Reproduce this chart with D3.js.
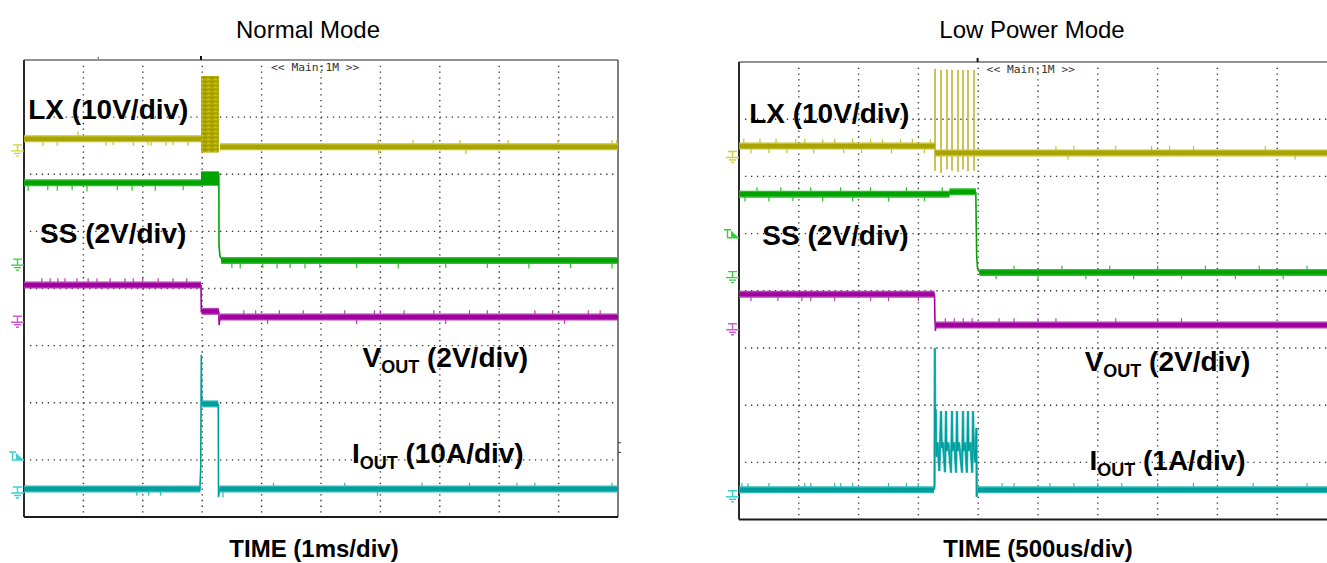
<!DOCTYPE html>
<html><head><meta charset="utf-8">
<script src="https://cdn.jsdelivr.net/npm/d3@7"></script>
<style>body{margin:0;background:#fff}svg{display:block}</style>
</head><body>
<svg id="c" width="1327" height="563"></svg>
<script>
// ---------- DATA (time in divisions, level in divisions above screen bottom) ----------
const panelTitles = ["Normal Mode", "Low Power Mode"];
const timeLabels = ["TIME (1ms/div)", "TIME (500us/div)"];
const lxLabels = ["LX (10V/div)", "LX (10V/div)"];
const ssLabels = ["SS (2V/div)", "SS (2V/div)"];
const voutScales = ["(2V/div)", "(2V/div)"];
const ioutScales = ["(10A/div)", "(1A/div)"];
const timeDivs = d3.range(0, 11);
const levelDivs = d3.range(0, 9);

// Left panel (Normal Mode)
const leftLxBands = [[0, 2.98, 6.62], [3.30, 10, 6.48]];
const leftLxBurst = [[2.98, 3.28, 6.38, 7.72]];
const leftLxGlitches = [[0.32,-0.12],[0.56,-0.12],[0.91,0.13],[1.38,-0.12],[1.50,-0.11],[1.84,-0.12],[2.09,-0.11],[2.14,-0.12],[2.39,-0.12],[2.51,-0.11],[2.76,-0.12],[5.96,0.13],[5.97,-0.13],[6.55,0.12],[6.89,0.12],[7.34,0.12],[7.44,-0.13],[8.15,0.12],[8.99,0.12],[9.90,0.12],[9.98,0.12]];
const leftSsBands = [[0, 2.98, 5.85], [3.32, 10, 4.49]];
const leftSsBurst = [[2.98, 3.28, 5.80, 6.05]];
const leftSsEdges = [[[3.28, 6.02], [3.283, 4.75], [3.30, 4.56], [3.34, 4.50]]];
const leftSsGlitches = [[0.07,-0.14],[0.40,-0.13],[0.56,-0.14],[0.81,-0.13],[1.06,-0.15],[1.57,-0.13],[1.82,-0.14],[2.21,-0.14],[2.68,-0.13],[3.50,-0.13],[3.64,-0.14],[4.02,-0.13],[4.26,-0.14],[4.48,-0.13],[4.73,-0.14],[4.98,-0.13],[5.6,-0.13],[6.3,-0.14],[7.1,-0.13],[7.8,-0.13],[8.5,-0.14],[9.2,-0.13],[9.9,-0.14]];
const leftVoutBands = [[0, 2.98, 4.06], [2.99, 3.28, 3.60], [3.30, 10, 3.50]];
const leftVoutEdges = [[[2.98, 4.06], [2.985, 3.58]], [[3.28, 3.60], [3.285, 3.36], [3.30, 3.50]]];
const leftVoutGlitches = [[0.30,0.12],[0.44,0.12],[0.57,0.12],[0.69,0.12],[0.89,0.12],[1.08,0.12],[1.23,0.12],[1.45,0.12],[1.70,0.12],[1.84,0.12],[2.00,0.12],[2.26,0.12],[2.51,0.12],[2.74,0.12],[3.7,0.12],[3.9,0.12],[4.1,-0.12],[4.3,0.12],[4.7,0.12],[5.4,0.12],[5.6,-0.12],[5.9,0.12],[6.0,0.12],[6.4,0.12],[6.9,0.12],[7.1,-0.12],[7.5,0.12],[7.8,0.12],[8.6,0.12],[8.9,0.12],[9.1,-0.12],[9.5,0.12],[9.7,0.12]];
const leftIoutBands = [[0, 2.97, 0.49], [3.29, 10, 0.49], [3.00, 3.27, 1.98]];
const leftIoutEdges = [[[2.96, 0.49], [2.975, 0.85], [2.985, 2.84], [2.99, 2.12], [3.0, 2.02]], [[3.27, 1.98], [3.275, 0.35], [3.29, 0.49]]];
const leftIoutGlitches = [[1.90,-0.12],[2.10,-0.12],[2.30,-0.12],[3.35,-0.15],[4.20,0.11],[5.40,0.11],[5.95,-0.12],[6.70,0.11],[7.50,0.11],[8.30,0.11],[8.60,0.11],[9.90,0.11]];
const leftGrounds = [6.41, 4.41, 3.41, 0.42];
const leftTrigger = [1.05];

// Right panel (Low Power Mode)
const rightLxBands = [[0, 3.28, 6.53], [3.28, 10, 6.41]];
const rightLxSpikes = [[3.278, 7.88, 6.10], [3.378, 7.86, 6.06], [3.478, 7.87, 6.12], [3.562, 7.86, 6.10], [3.662, 7.86, 6.08], [3.746, 7.86, 6.12], [3.829, 7.86, 6.09], [3.930, 7.86, 6.10]];
const rightLxGlitches = [[0.08,0.13],[0.2,-0.13],[0.35,0.13],[0.5,-0.12],[0.62,0.13],[0.8,-0.12],[0.95,0.12],[1.1,0.13],[1.25,-0.13],[1.4,0.12],[1.6,0.13],[1.75,-0.12],[1.9,0.13],[2.05,-0.12],[2.2,0.13],[2.4,0.12],[2.55,-0.13],[2.7,0.12],[2.9,0.13],[3.1,-0.12],[3.2,0.12],[5.3,0.12],[5.5,-0.12],[5.6,0.12],[6.3,0.12],[6.9,0.12],[7.2,0.12],[7.6,0.12],[8.8,0.12],[9.3,-0.12]];
const rightSsBands = [[0, 3.52, 5.69], [3.52, 3.96, 5.73], [4.02, 10, 4.32]];
const rightSsEdges = [[[3.96, 5.73], [3.965, 5.3], [3.975, 4.6], [3.99, 4.38], [4.03, 4.32]]];
const rightSsGlitches = [[0.1,-0.13],[0.3,0.12],[0.5,-0.13],[0.7,0.12],[0.9,-0.12],[1.2,0.12],[1.4,-0.13],[1.7,0.12],[1.9,-0.12],[2.2,0.12],[2.5,-0.13],[2.8,0.12],[3.1,-0.12],[3.4,0.12],[4.3,-0.12],[4.6,0.12],[5.0,-0.12],[5.4,0.12],[5.8,-0.12],[6.2,0.12],[6.6,-0.12],[7.0,0.12],[7.4,-0.12],[7.8,0.12],[8.3,-0.12],[8.7,0.12],[9.1,-0.12],[9.5,0.12]];
const rightVoutBands = [[0, 3.27, 3.94], [3.29, 10, 3.40]];
const rightVoutEdges = [[[3.27, 3.94], [3.275, 3.55], [3.285, 3.30], [3.29, 3.40]]];
const rightVoutGlitches = [[0.2,-0.12],[0.65,-0.12],[1.05,-0.12],[1.2,-0.12],[1.6,-0.12],[2.2,-0.12],[2.5,-0.12],[3.0,-0.12],[3.45,0.12],[3.6,0.12],[3.75,0.12],[3.9,0.12],[4.35,0.12],[4.6,0.12],[5.0,0.12],[5.3,0.12],[6.3,0.12],[7.0,0.12],[7.4,0.12]];
const rightIoutBands = [[0, 3.26, 0.52], [3.99, 10, 0.52]];
const rightIoutBurst = [[3.26,0.52],[3.27,0.6],[3.275,3.0],[3.28,1.5],[3.29,1.93],[3.30,1.1],[3.32,1.35],[3.35,0.85],[3.378,1.90],[3.39,1.25],[3.41,1.35],[3.445,0.83],[3.462,1.90],[3.47,1.2],[3.50,1.35],[3.545,0.82],[3.562,1.90],[3.57,1.2],[3.60,1.35],[3.63,0.82],[3.645,1.90],[3.655,1.2],[3.68,1.35],[3.73,0.82],[3.746,1.90],[3.755,1.2],[3.78,1.35],[3.81,0.82],[3.829,1.90],[3.84,1.2],[3.87,1.35],[3.90,0.82],[3.913,1.90],[3.925,1.3],[3.95,1.0],[3.97,1.6],[3.975,0.4],[3.985,0.52]];
const rightIoutGlitches = [[0.05,0.12],[0.15,0.12],[0.5,0.12],[1.1,0.12],[1.2,0.12],[1.6,0.12],[1.7,0.12],[1.9,0.12],[2.5,0.12],[2.8,0.12],[3.0,0.12],[4.4,0.12],[4.6,0.12],[5.2,0.12],[5.6,0.12],[6.0,0.12],[6.4,0.12],[7.0,0.12],[7.6,0.12],[8.6,0.12],[9.5,0.12]];
const rightGrounds = [6.33, 4.23, 3.32, 0.40];
const rightTrigger = [4.98];

// ---------- STYLE ----------
const COLORS = {
  lx:   {light: "#c6c132", core: "#aaa400", mark: "#d2cf3a"},
  ss:   {light: "#2ebd2e", core: "#00a300", mark: "#3ccd3c"},
  vout: {light: "#b640b6", core: "#a0009e", mark: "#d35ad3"},
  iout: {light: "#30b8b8", core: "#009d9d", mark: "#3ed0d0"}
};
const FONT = "'Liberation Sans', Arial, Helvetica, sans-serif";

const svg = d3.select("#c");
const defs = svg.append("defs");
const pat = defs.append("pattern").attr("id", "burstPat").attr("patternUnits", "userSpaceOnUse")
  .attr("width", 7).attr("height", 4);
pat.append("rect").attr("width", 7).attr("height", 4).attr("fill", "#b0a900");
pat.append("rect").attr("x", 0).attr("y", 1).attr("width", 4).attr("height", 1.2).attr("fill", "#938c00");
pat.append("rect").attr("x", 4).attr("y", 3).attr("width", 3).attr("height", 1).attr("fill", "#c4be40");

function panel(cfg) {
  const g = svg.append("g");
  const x = d3.scaleLinear().domain([0, 10]).range([cfg.x0, cfg.x0 + cfg.w]);
  const y = d3.scaleLinear().domain([0, 8]).range([cfg.y0 + cfg.h, cfg.y0]);
  const clipId = "clip" + cfg.id;
  defs.append("clipPath").attr("id", clipId).append("rect")
    .attr("x", cfg.x0).attr("y", cfg.y0 - 30).attr("width", cfg.w).attr("height", cfg.h + 30);

  // grid
  const dx = cfg.w / 10, dy = cfg.h / 8;
  const grid = g.append("g").attr("stroke", "#333").attr("stroke-width", 1.4);
  grid.selectAll("line.v").data(timeDivs.slice(1, 10)).join("line").attr("class", "v")
    .attr("x1", d => x(d)).attr("x2", d => x(d))
    .attr("y1", cfg.y0 + dy / 10).attr("y2", cfg.y0 + cfg.h)
    .attr("stroke-dasharray", `1.3 ${dy / 10 - 1.3}`);
  grid.selectAll("line.h").data(levelDivs.slice(1, 8)).join("line").attr("class", "h")
    .attr("x1", cfg.x0 + dx / 10).attr("x2", cfg.x0 + cfg.w)
    .attr("y1", d => y(d)).attr("y2", d => y(d))
    .attr("stroke-dasharray", `1.3 ${dx / 10 - 1.3}`);

  // frame
  g.append("line").attr("x1", cfg.x0).attr("x2", cfg.x0 + cfg.w).attr("y1", cfg.y0).attr("y2", cfg.y0)
    .attr("stroke", "#6e6e6e").attr("stroke-width", 1.5);
  g.append("line").attr("x1", cfg.x0 + cfg.w).attr("x2", cfg.x0 + cfg.w).attr("y1", cfg.y0).attr("y2", cfg.y0 + cfg.h)
    .attr("stroke", "#555").attr("stroke-width", 1.5);
  g.append("line").attr("x1", cfg.x0).attr("x2", cfg.x0 + cfg.w).attr("y1", cfg.y0 + cfg.h).attr("y2", cfg.y0 + cfg.h)
    .attr("stroke", "#1a1a1a").attr("stroke-width", 2);
  g.append("line").attr("x1", cfg.x0).attr("x2", cfg.x0).attr("y1", cfg.y0).attr("y2", cfg.y0 + cfg.h)
    .attr("stroke", "#2a2a2a").attr("stroke-width", 2);

  // top trigger-position marker and small scope marks
  g.append("line").attr("x1", x(cfg.trigT)).attr("x2", x(cfg.trigT)).attr("y1", cfg.y0 - 4).attr("y2", cfg.y0)
    .attr("stroke", "#111").attr("stroke-width", 2);
  cfg.topMarks.forEach(t => g.append("line").attr("x1", x(t)).attr("x2", x(t)).attr("y1", cfg.y0 - 3).attr("y2", cfg.y0 - 1)
    .attr("stroke", "#555").attr("stroke-width", 1));
  cfg.sideMarks.forEach(v => g.append("line").attr("x1", cfg.x0 + cfg.w).attr("x2", cfg.x0 + cfg.w + 3)
    .attr("y1", y(v)).attr("y2", y(v)).attr("stroke", "#333").attr("stroke-width", 1));

  g.append("text").text("<< Main:1M >>").attr("x", x(cfg.trigT) + cfg.mainDx).attr("y", cfg.y0 + 11)
    .attr("font-family", "'DejaVu Sans Mono', monospace").attr("font-size", 11.3).attr("fill", "#333");

  const tr = g.append("g").attr("clip-path", `url(#${clipId})`);
  const line = d3.line().x(d => x(d[0])).y(d => y(d[1]));

  function bandAt(bands, tt) {
    let best = bands[0];
    bands.forEach(b => { if (tt >= b[0] && tt <= b[1]) best = b; });
    return best[2];
  }
  function trace(c, bands, edges, glitches, bw) {
    const col = COLORS[c];
    const t = tr.append("g");
    t.selectAll("line.gl").data(glitches).join("line")
      .attr("x1", d => x(d[0])).attr("x2", d => x(d[0]))
      .attr("y1", d => y(bandAt(bands, d[0]))).attr("y2", d => y(bandAt(bands, d[0]) + d[1]))
      .attr("stroke", col.light).attr("stroke-width", 1.2);
    t.selectAll("path.edge").data(edges).join("path").attr("d", line)
      .attr("fill", "none").attr("stroke", col.core).attr("stroke-width", 1.6);
    t.selectAll("line.o").data(bands).join("line")
      .attr("x1", d => x(d[0])).attr("x2", d => x(d[1])).attr("y1", d => y(d[2])).attr("y2", d => y(d[2]))
      .attr("stroke", col.light).attr("stroke-width", bw);
    t.selectAll("line.i").data(bands).join("line")
      .attr("x1", d => x(d[0])).attr("x2", d => x(d[1])).attr("y1", d => y(d[2])).attr("y2", d => y(d[2]))
      .attr("stroke", col.core).attr("stroke-width", bw * 0.6);
    return t;
  }

  cfg.draw({x, y, tr, trace, line});

  // ground and trigger markers
  const gm = g.append("g").attr("fill", "none").attr("stroke-width", 1.4);
  const xr = cfg.x0;
  cfg.grounds.forEach((lv, i) => {
    const col = COLORS[["lx", "ss", "vout", "iout"][i]].mark;
    const yy = y(lv);
    gm.append("path").attr("stroke", col)
      .attr("d", `M${xr-11},${yy-6}H${xr-2}M${xr-6.5},${yy-6}V${yy}M${xr-13},${yy}H${xr}M${xr-10},${yy+2.5}H${xr-3}M${xr-8},${yy+5}H${xr-5}`);
  });
  cfg.trigger.forEach(lv => {
    const yy = y(lv);
    const col = COLORS[cfg.triggerCh].mark;
    gm.append("path").attr("stroke", col).attr("d", `M${xr-15},${yy-5}H${xr-8}M${xr-11.5},${yy-5}V${yy+3}M${xr-12},${yy+3}H${xr}`);
    gm.append("path").attr("stroke", "none").attr("fill", col).attr("d", `M${xr-8},${yy-4}L${xr},${yy+3}L${xr-8},${yy+3}Z`);
  });

  // labels
  const lab = g.append("g").attr("font-family", FONT).attr("font-weight", "bold").attr("font-size", 28).attr("fill", "#000");
  lab.append("text").attr("x", x(cfg.lxPos[0])).attr("y", y(cfg.lxPos[1])).text(lxLabels[cfg.id]);
  lab.append("text").attr("x", x(cfg.ssPos[0])).attr("y", y(cfg.ssPos[1])).text(ssLabels[cfg.id]);
  const v = lab.append("text").attr("x", x(cfg.voutPos[0])).attr("y", y(cfg.voutPos[1]));
  v.append("tspan").text("V");
  v.append("tspan").attr("font-size", 18).attr("dy", 6).text("OUT");
  v.append("tspan").attr("dy", -6).text(" " + voutScales[cfg.id]);
  const iT = lab.append("text").attr("x", x(cfg.ioutPos[0])).attr("y", y(cfg.ioutPos[1]));
  iT.append("tspan").text("I");
  iT.append("tspan").attr("font-size", 18).attr("dy", 6).text("OUT");
  iT.append("tspan").attr("dy", -6).text(" " + ioutScales[cfg.id]);

  svg.append("text").attr("x", cfg.titleX).attr("y", 38).attr("text-anchor", "middle")
    .attr("font-family", FONT).attr("font-size", 24).attr("fill", "#000").text(panelTitles[cfg.id]);
  svg.append("text").attr("x", cfg.titleX + 6).attr("y", 557).attr("text-anchor", "middle")
    .attr("font-family", FONT).attr("font-weight", "bold").attr("font-size", 24).attr("fill", "#000").text(timeLabels[cfg.id]);
}

panel({
  id: 0, x0: 24, y0: 60, w: 594, h: 457, trigT: 2.98, mainDx: 70, titleX: 308,
  topMarks: [1.25], sideMarks: [1.3, 1.13],
  grounds: leftGrounds, trigger: leftTrigger, triggerCh: "iout",
  lxPos: [0.07, 6.97], ssPos: [0.27, 4.8], voutPos: [5.7, 2.63], ioutPos: [5.52, 0.94],
  draw: ({x, y, tr, trace}) => {
    tr.selectAll("rect.burst").data(leftLxBurst).join("rect")
      .attr("x", d => x(d[0])).attr("width", d => x(d[1]) - x(d[0]))
      .attr("y", d => y(d[3])).attr("height", d => y(d[2]) - y(d[3])).attr("fill", "url(#burstPat)");
    trace("lx", leftLxBands, [], leftLxGlitches, 7);
    tr.selectAll("rect.ssb").data(leftSsBurst).join("rect")
      .attr("x", d => x(d[0])).attr("width", d => x(d[1]) - x(d[0]))
      .attr("y", d => y(d[3])).attr("height", d => y(d[2]) - y(d[3])).attr("fill", COLORS.ss.core);
    trace("ss", leftSsBands, leftSsEdges, leftSsGlitches, 7);
    trace("vout", leftVoutBands, leftVoutEdges, leftVoutGlitches, 7);
    trace("iout", leftIoutBands, leftIoutEdges, leftIoutGlitches, 7);
  }
});

panel({
  id: 1, x0: 739, y0: 62, w: 598, h: 457.6, trigT: 3.99, mainDx: 9, titleX: 1032,
  topMarks: [], sideMarks: [],
  grounds: rightGrounds, trigger: rightTrigger, triggerCh: "ss",
  lxPos: [0.17, 6.94], ssPos: [0.39, 4.8], voutPos: [5.78, 2.6], ioutPos: [5.86, 0.86],
  draw: ({x, y, tr, trace, line}) => {
    tr.selectAll("line.spk").data(rightLxSpikes).join("line")
      .attr("x1", d => x(d[0])).attr("x2", d => x(d[0])).attr("y1", d => y(d[1])).attr("y2", d => y(d[2]))
      .attr("stroke", "#bdb62a").attr("stroke-width", 1.6);
    trace("lx", rightLxBands, [], rightLxGlitches, 7);
    trace("ss", rightSsBands, rightSsEdges, rightSsGlitches, 7);
    trace("vout", rightVoutBands, rightVoutEdges, rightVoutGlitches, 7);
    tr.append("path").datum(rightIoutBurst).attr("d", line).attr("fill", "none")
      .attr("stroke", COLORS.iout.light).attr("stroke-width", 2.4);
    tr.append("path").datum(rightIoutBurst).attr("d", line).attr("fill", "none")
      .attr("stroke", COLORS.iout.core).attr("stroke-width", 1.1);
    trace("iout", rightIoutBands, [], rightIoutGlitches, 7);
  }
});
</script>
</body></html>
